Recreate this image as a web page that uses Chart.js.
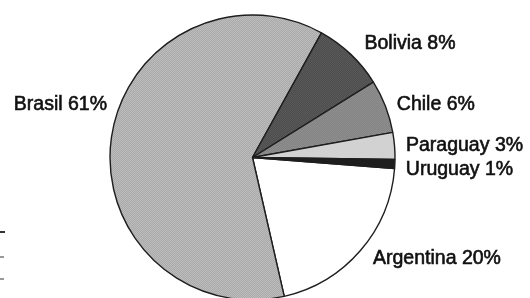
<!DOCTYPE html>
<html>
<head>
<meta charset="utf-8">
<script src="https://cdn.jsdelivr.net/npm/chart.js@4/dist/chart.umd.min.js"></script>
<style>
  html, body { margin: 0; padding: 0; background: #fff; overflow: hidden; width: 530px; height: 298px; }
  #wrap { position: relative; width: 530px; height: 302px; }
  .tick { position: absolute; left: 0; height: 2px; }
</style>
</head>
<body>
<div id="wrap">
  <canvas id="c"></canvas>
  <div class="tick" style="top:231px;width:5px;background:#333;"></div>
  <div class="tick" style="top:256px;width:4px;background:#999;"></div>
  <div class="tick" style="top:278px;width:4px;background:#999;"></div>
</div>
<script>
// ---- data ----
const countries = ["Argentina", "Brasil", "Bolivia", "Chile", "Paraguay", "Uruguay"];
const shares = [20, 61, 8, 6, 3, 1];

// ---- styling (separate from data) ----
function checker(c1, c2) {
  const p = document.createElement('canvas');
  p.width = 2; p.height = 2;
  const g = p.getContext('2d');
  g.fillStyle = c1; g.fillRect(0, 0, 2, 2);
  g.fillStyle = c2; g.fillRect(0, 0, 1, 1); g.fillRect(1, 1, 1, 1);
  return g.createPattern(p, 'repeat');
}
const ctx = document.getElementById('c').getContext('2d');
const fills = [
  '#ffffff',
  checker('#aaaaaa', '#bcbcbc'),
  checker('#4c4c4c', '#5a5a5a'),
  checker('#838383', '#8f8f8f'),
  '#d2d2d2',
  '#1e1e1e'
];
// label nudges relative to the arc's mid-angle anchor
const labelNudge = [[5, 0], [5.5, -33], [7, -5], [2, 0], [1.5, -1], [1, 3.5]];

const outsideLabels = {
  id: 'outsideLabels',
  afterDatasetsDraw(chart) {
    const c = chart.ctx;
    const meta = chart.getDatasetMeta(0);
    const fs = 19.5;
    c.save();
    c.font = fs + 'px "Liberation Sans", Arial, sans-serif';
    c.fillStyle = '#111';
    c.strokeStyle = '#111';
    c.lineWidth = 0.6;
    c.textBaseline = 'alphabetic';
    meta.data.forEach((arc, i) => {
      const p = arc.getProps(['x', 'y', 'startAngle', 'endAngle', 'outerRadius'], true);
      const mid = (p.startAngle + p.endAngle) / 2;
      const R = p.outerRadius + 10;
      const ax = p.x + Math.cos(mid) * R + labelNudge[i][0];
      const ay = p.y + Math.sin(mid) * R + labelNudge[i][1];
      c.textAlign = Math.cos(mid) >= 0 ? 'left' : 'right';
      const t = countries[i] + ' ' + shares[i] + '%';
      c.fillText(t, ax, ay + 0.358 * fs);
      c.strokeText(t, ax, ay + 0.358 * fs);
    });
    c.restore();
  }
};

new Chart(ctx, {
  type: 'pie',
  data: {
    labels: countries,
    datasets: [{
      data: shares,
      backgroundColor: fills,
      borderColor: '#1e1e1e',
      borderWidth: 1.4
    }]
  },
  options: {
    responsive: true,
    maintainAspectRatio: false,
    animation: false,
    rotation: 94.4,
    radius: 142.5,
    layout: { padding: { top: 15, bottom: 2, left: 110, right: 135 } },
    plugins: { legend: { display: false }, tooltip: { enabled: false } }
  },
  plugins: [outsideLabels]
});
</script>
</body>
</html>
